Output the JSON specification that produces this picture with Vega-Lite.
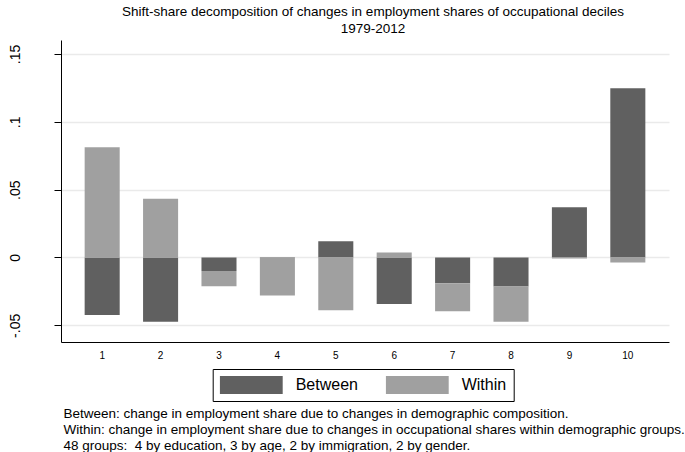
{
  "$schema": "https://vega.github.io/schema/vega-lite/v6.json",
  "width": 608,
  "height": 302,
  "autosize": {"type": "none"},
  "padding": {"left": 61, "top": 40, "right": 16, "bottom": 110},
  "background": "white",
  "config": {"font": "Liberation Sans", "view": {"stroke": null}},
  "title": {
    "text": ["Shift-share decomposition of changes in employment shares of occupational deciles", "1979-2012"],
    "fontSize": 13.5,
    "fontWeight": "normal",
    "color": "#000",
    "anchor": "middle",
    "frame": "group",
    "offset": 5,
    "dx": 8,
    "lineHeight": 17
  },
  "data": {
    "values": [
      {"decile": 1, "component": "Between", "value": -0.0424},
      {"decile": 1, "component": "Within", "value": 0.0812},
      {"decile": 2, "component": "Between", "value": -0.0473},
      {"decile": 2, "component": "Within", "value": 0.0433},
      {"decile": 3, "component": "Between", "value": -0.0099},
      {"decile": 3, "component": "Within", "value": -0.0113},
      {"decile": 4, "component": "Between", "value": -0.0003},
      {"decile": 4, "component": "Within", "value": -0.0278},
      {"decile": 5, "component": "Between", "value": 0.012},
      {"decile": 5, "component": "Within", "value": -0.0389},
      {"decile": 6, "component": "Between", "value": -0.0343},
      {"decile": 6, "component": "Within", "value": 0.0037},
      {"decile": 7, "component": "Between", "value": -0.019},
      {"decile": 7, "component": "Within", "value": -0.0207},
      {"decile": 8, "component": "Between", "value": -0.0214},
      {"decile": 8, "component": "Within", "value": -0.0259},
      {"decile": 9, "component": "Between", "value": 0.0371},
      {"decile": 9, "component": "Within", "value": -0.0008},
      {"decile": 10, "component": "Between", "value": 0.1248},
      {"decile": 10, "component": "Within", "value": -0.0037}
    ]
  },
  "mark": {"type": "bar"},
  "encoding": {
    "x": {
      "field": "decile",
      "type": "ordinal",
      "scale": {"paddingInner": 0.4, "paddingOuter": 0.405},
      "axis": {
        "title": [
          "Between: change in employment share due to changes in demographic composition.",
          "Within: change in employment share due to changes in occupational shares within demographic groups.",
          "48 groups:\u00a0 4 by education, 3 by age, 2 by immigration, 2 by gender."
        ],
        "titleAlign": "left",
        "titleAnchor": "start",
        "titleBaseline": "top",
        "titleX": 2,
        "titleY": 64,
        "titleFontSize": 13.5,
        "titleFontWeight": "normal",
        "titleColor": "#000",
        "titleLineHeight": 16,
        "labelAngle": 0,
        "labelFontSize": 10,
        "labelPadding": 8,
        "labelColor": "#000",
        "ticks": false,
        "domainColor": "#000",
        "grid": false
      }
    },
    "y": {
      "field": "value",
      "type": "quantitative",
      "stack": "zero",
      "scale": {"domain": [-0.0623, 0.1603], "nice": false, "zero": false},
      "axis": {
        "title": null,
        "values": [-0.05, 0, 0.05, 0.1, 0.15],
        "labelExpr": "replace(toString(datum.value), '0.', '.')",
        "labelAngle": -90,
        "labelAlign": "center",
        "labelBaseline": "bottom",
        "labelFontSize": 14,
        "labelPadding": 32,
        "labelColor": "#000",
        "tickSize": 7,
        "tickColor": "#000",
        "domainColor": "#000",
        "gridColor": "#eaeaea",
        "gridWidth": 1.5
      }
    },
    "color": {
      "field": "component",
      "type": "nominal",
      "scale": {"domain": ["Between", "Within"], "range": ["#606060", "#a0a0a0"]},
      "legend": {
        "title": null,
        "orient": "none",
        "legendX": 151.7,
        "legendY": 329,
        "direction": "horizontal",
        "columns": 2,
        "symbolType": "M-1,-0.286H1V0.286H-1Z",
        "symbolSize": 3969,
        "symbolStrokeWidth": 0,
        "symbolOpacity": 1,
        "clipHeight": 18,
        "labelFontSize": 16,
        "labelOffset": 13,
        "labelColor": "#000",
        "columnPadding": 27,
        "padding": 7,
        "strokeColor": "#000"
      }
    },
    "order": {"field": "component", "sort": "ascending"}
  }
}
